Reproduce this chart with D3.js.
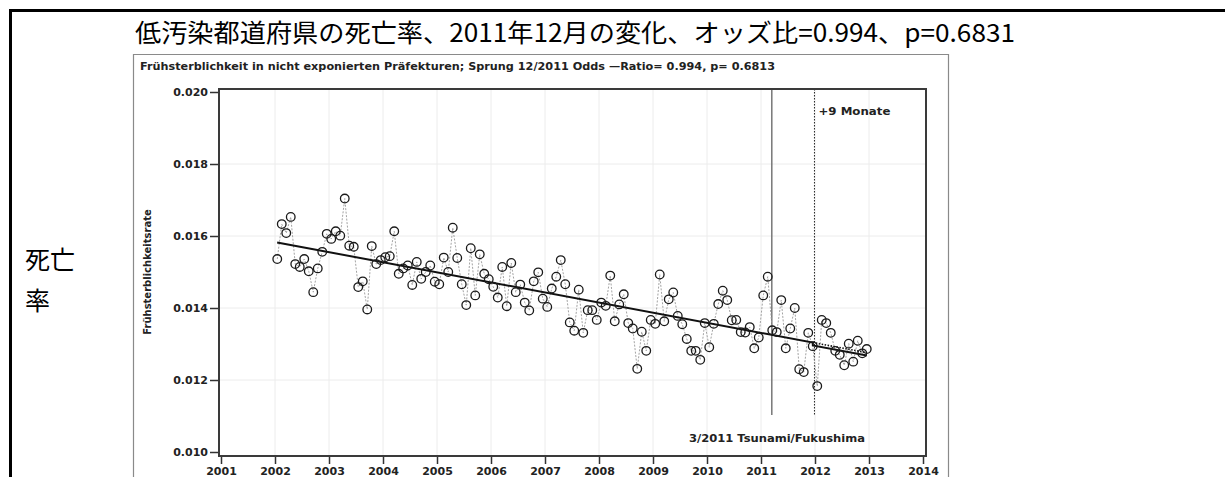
<!DOCTYPE html>
<html>
<head>
<meta charset="utf-8">
<script src="https://cdn.jsdelivr.net/npm/d3@7"></script>
<style>
  body { margin: 0; background: #fff; }
  svg { display: block; }
</style>
</head>
<body>
<div id="chart"></div>
<script>
// monthly early-mortality rate, Jan 2002 .. Dec 2012
var years = [2002, 2003, 2004, 2005, 2006, 2007, 2008, 2009, 2010, 2011, 2012];
var rates = [
  0.01536, 0.01633, 0.01608, 0.01653, 0.01522, 0.01514, 0.01536, 0.01502, 0.01444, 0.01510, 0.01556, 0.01606,
  0.01592, 0.01613, 0.01601, 0.01704, 0.01573, 0.01570, 0.01458, 0.01474, 0.01396, 0.01572, 0.01522, 0.01533,
  0.01541, 0.01544, 0.01613, 0.01495, 0.01510, 0.01518, 0.01464, 0.01528, 0.01481, 0.01500, 0.01518, 0.01473,
  0.01466, 0.01540, 0.01500, 0.01623, 0.01539, 0.01466, 0.01408, 0.01566, 0.01435, 0.01549, 0.01495, 0.01480,
  0.01459, 0.01429, 0.01514, 0.01405, 0.01525, 0.01444, 0.01465, 0.01415, 0.01393, 0.01474, 0.01499, 0.01426,
  0.01403, 0.01454, 0.01487, 0.01533, 0.01466, 0.01360, 0.01337, 0.01451, 0.01331, 0.01394, 0.01394, 0.01367,
  0.01415, 0.01406, 0.01490, 0.01363, 0.01410, 0.01438, 0.01358, 0.01343, 0.01231, 0.01334, 0.01281, 0.01367,
  0.01356, 0.01493, 0.01363, 0.01424, 0.01443, 0.01378, 0.01355, 0.01314, 0.01281, 0.01281, 0.01256, 0.01358,
  0.01291, 0.01356, 0.01411, 0.01448, 0.01422, 0.01366, 0.01367, 0.01333, 0.01332, 0.01347, 0.01288, 0.01318,
  0.01435, 0.01487, 0.01338, 0.01333, 0.01422, 0.01288, 0.01343, 0.01400, 0.01230, 0.01222, 0.01331, 0.01294,
  0.01183, 0.01367, 0.01358, 0.01331, 0.01281, 0.01270, 0.01241, 0.01301, 0.01251, 0.01309, 0.01274, 0.01286
];

// fitted trend (before step), step ratio at 12/2011
var trendX = [2002.04, 2011.96];
var trendY = [0.01582, 0.01304];
var stepRatio = 0.994;
var trendEndX = 2012.96;

var xTicks = [2001, 2002, 2003, 2004, 2005, 2006, 2007, 2008, 2009, 2010, 2011, 2012, 2013, 2014];
var yTicks = [0.010, 0.012, 0.014, 0.016, 0.018, 0.020];

var tsunamiX = 2011.2;
var monateX = 2011.99;

var mainTitle = "低汚染都道府県の死亡率、2011年12月の変化、オッズ比=0.994、p=0.6831";
var innerTitle = "Frühsterblichkeit in nicht exponierten Präfekturen; Sprung 12/2011 Odds \u2014Ratio= 0.994, p= 0.6813";

var W = 1225, H = 477;
var svg = d3.select("#chart").append("svg")
    .attr("width", W).attr("height", H);

svg.append("rect").attr("width", W).attr("height", H).attr("fill", "#fff");

// outer frame of the page table
svg.append("line").attr("x1", 9).attr("x2", W).attr("y1", 10.5).attr("y2", 10.5)
    .attr("stroke", "#000").attr("stroke-width", 3);
svg.append("line").attr("x1", 10.5).attr("x2", 10.5).attr("y1", 9).attr("y2", H)
    .attr("stroke", "#000").attr("stroke-width", 3);

// inner image border
svg.append("path")
    .attr("d", "M133.5," + H + "V54.5H948.5V" + H)
    .attr("fill", "none").attr("stroke", "#8a8a8a").attr("stroke-width", 1.2);

svg.append("text")
    .attr("x", 135).attr("y", 31)
    .attr("dominant-baseline", "central")
    .attr("textLength", 880).attr("lengthAdjust", "spacingAndGlyphs")
    .style("font-family", "'Noto Sans CJK JP'")
    .style("font-size", "25px")
    .text(mainTitle);

svg.append("text").attr("x", 25).attr("y", 258)
    .attr("dominant-baseline", "central")
    .style("font-family", "'Noto Sans CJK JP'").style("font-size", "25px")
    .text("死亡");
svg.append("text").attr("x", 25).attr("y", 299)
    .attr("dominant-baseline", "central")
    .style("font-family", "'Noto Sans CJK JP'").style("font-size", "25px")
    .text("率");

svg.append("text")
    .attr("x", 140).attr("y", 70)
    .attr("textLength", 635).attr("lengthAdjust", "spacingAndGlyphs")
    .style("font-family", "'DejaVu Sans'").style("font-weight", "bold")
    .style("font-size", "11px").attr("fill", "#222")
    .text(innerTitle);

var x = d3.scaleLinear().domain([2001, 2014]).range([221, 923]);
var y = d3.scaleLinear().domain([0.010, 0.020]).range([452, 92]);

var plot = svg.append("g");

// grid
plot.selectAll(".vg").data(xTicks.slice(1, -1)).enter().append("line")
    .attr("x1", d => x(d)).attr("x2", d => x(d)).attr("y1", 90).attr("y2", 455)
    .attr("stroke", "#ececec").attr("stroke-width", 1);
plot.selectAll(".hg").data(yTicks.slice(1, -1)).enter().append("line")
    .attr("x1", 220).attr("x2", 925).attr("y1", d => y(d)).attr("y2", d => y(d))
    .attr("stroke", "#ececec").attr("stroke-width", 1);

// axes
var yAxis = plot.append("g").attr("transform", "translate(218,0)")
    .call(d3.axisLeft(y).tickValues(yTicks).tickFormat(d3.format(".3f")).tickSize(8).tickPadding(2));
var xAxis = plot.append("g").attr("transform", "translate(0,457)")
    .call(d3.axisBottom(x).tickValues(xTicks).tickFormat(d3.format("d")).tickSize(7).tickPadding(3));
[yAxis, xAxis].forEach(function (a) {
  a.select(".domain").remove();
  a.selectAll("line").attr("stroke", "#333").attr("stroke-width", 1.5);
  a.selectAll("text").attr("fill", "#222")
    .style("font-family", "'DejaVu Sans'").style("font-weight", "bold").style("font-size", "11px");
});

plot.append("text")
    .attr("transform", "translate(151,272) rotate(-90)")
    .attr("text-anchor", "middle")
    .style("font-family", "'DejaVu Sans'").style("font-weight", "bold").style("font-size", "10px")
    .attr("fill", "#222")
    .text("Frühsterblichkeitsrate");

// event lines
plot.append("line").attr("x1", x(tsunamiX)).attr("x2", x(tsunamiX)).attr("y1", 89).attr("y2", 415)
    .attr("stroke", "#777").attr("stroke-width", 1.5);
plot.append("line").attr("x1", x(monateX)).attr("x2", x(monateX)).attr("y1", 89).attr("y2", 415)
    .attr("stroke", "#222").attr("stroke-width", 1).attr("stroke-dasharray", "1.5,1.5");

plot.append("text").attr("x", x(monateX) + 4).attr("y", 115)
    .attr("textLength", 72).attr("lengthAdjust", "spacingAndGlyphs")
    .style("font-family", "'DejaVu Sans'").style("font-weight", "bold").style("font-size", "11px")
    .attr("fill", "#222").text("+9 Monate");
plot.append("text").attr("x", 689).attr("y", 442)
    .attr("textLength", 176).attr("lengthAdjust", "spacingAndGlyphs")
    .style("font-family", "'DejaVu Sans'").style("font-weight", "bold").style("font-size", "11px")
    .attr("fill", "#222").text("3/2011 Tsunami/Fukushima");

// monthly series
var pts = rates.map(function (v, i) {
  return { t: years[0] + (i + 0.5) / 12, v: v };
});

plot.append("path").datum(pts)
    .attr("fill", "none").attr("stroke", "#999").attr("stroke-width", 0.9)
    .attr("stroke-dasharray", "2,1.5")
    .attr("d", d3.line().x(d => x(d.t)).y(d => y(d.v)));

// trend + step
var slope = (trendY[1] - trendY[0]) / (trendX[1] - trendX[0]);
var atEnd = trendY[1] + slope * (trendEndX - trendX[1]);
var line = d3.line().x(d => x(d[0])).y(d => y(d[1]));

plot.append("path")
    .datum([[trendX[1], trendY[1]], [trendEndX, atEnd]])
    .attr("fill", "none").attr("stroke", "#111").attr("stroke-width", 1.6)
    .attr("stroke-dasharray", "1.5,1.5")
    .attr("d", line);
plot.append("path")
    .datum([[trendX[0], trendY[0]], [trendX[1], trendY[1]], [trendX[1], trendY[1] * stepRatio], [trendEndX, atEnd * stepRatio]])
    .attr("fill", "none").attr("stroke", "#111").attr("stroke-width", 2)
    .attr("d", line);

plot.selectAll(".pt").data(pts).enter().append("circle")
    .attr("cx", d => x(d.t)).attr("cy", d => y(d.v)).attr("r", 4.3)
    .attr("fill", "none").attr("stroke", "#1a1a1a").attr("stroke-width", 1.3);

// plot frame
plot.append("rect").attr("x", 219).attr("y", 89).attr("width", 707).attr("height", 367)
    .attr("fill", "none").attr("stroke", "#3a3a3a").attr("stroke-width", 2);
</script>
</body>
</html>
